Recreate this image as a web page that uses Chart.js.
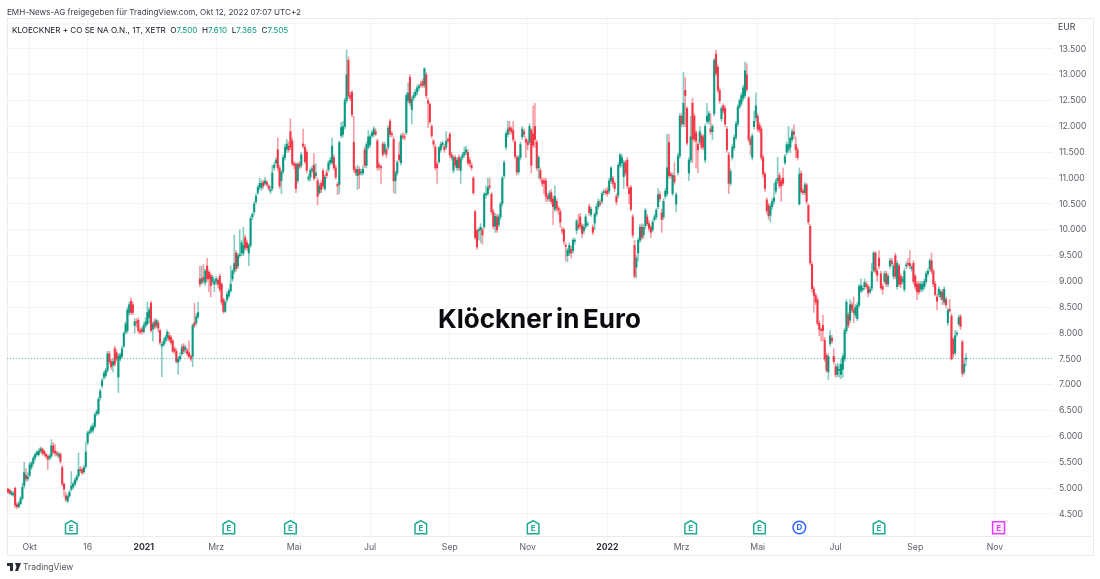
<!DOCTYPE html>
<html>
<head>
<meta charset="utf-8">
<title>Klöckner in Euro</title>
<script src="https://cdn.jsdelivr.net/npm/chart.js@4"></script>
<style>
  body { margin: 0; background: #fff; font-family: Inter, sans-serif; }
  #wrap { position: relative; width: 1100px; height: 579px; overflow: hidden; }
  canvas { position: absolute; left: 0; top: 0; }
  .txt { position: absolute; white-space: pre; color: #3c3f4a; font-size: 8.1px; line-height: 12px; }
  .up { color: #089981; }
</style>
</head>
<body>
<div id="wrap">
  <canvas id="chart" width="1100" height="579"></canvas>
  <div class="txt" style="left:7px;top:6px">EMH-News-AG freigegeben für TradingView.com, Okt 12, 2022 07:07 UTC+2</div>
  <div class="txt" style="left:12px;top:24px;color:#131722">KLOECKNER + CO SE NA O.N., 1T, XETR  O<span class="up">7.500</span>  H<span class="up">7.610</span>  L<span class="up">7.365</span>  C<span class="up">7.505</span></div>
  <div class="txt" style="left:1058px;top:21px;font-size:8.7px">EUR</div>
  <div class="txt" style="left:438px;top:303px;font-size:26px;line-height:32px;font-weight:700;word-spacing:-2.4px;color:#0b0b0f">Klöckner in Euro</div>
  <svg style="position:absolute;left:7px;top:563px" width="14" height="8" viewBox="0 0 14 8"><path d="M0 0h6v8H3V3H0z M8 0h6l-3 8H8l1.500-4z" fill="#2a2e39"/></svg>
  <div class="txt" style="left:23px;top:561px;font-size:8.5px;color:#50535e">TradingView</div>
</div>
<script>
// daily candles (Euro)
const opens = [
4.98,4.96,4.88,4.87,5.00,4.68,4.64,4.70,4.80,5.05,5.25,5.18,5.25,5.40,5.48,5.58,5.65,5.65,5.72,5.76,
5.72,5.66,5.62,5.58,5.62,5.82,5.72,5.68,5.62,5.66,5.40,5.08,4.85,4.75,4.85,4.98,5.02,5.08,5.16,5.24,
5.36,5.36,5.32,5.42,5.88,6.07,6.10,6.12,6.20,6.44,6.45,6.75,6.98,7.15,7.18,7.28,7.60,7.45,7.38,7.70,
7.62,7.15,7.50,7.55,7.75,8.02,8.05,8.40,8.62,8.55,8.15,8.22,8.25,8.05,8.08,8.03,8.15,8.18,8.30,8.58,
8.08,8.22,8.15,8.20,8.05,7.75,7.78,7.85,7.92,7.95,7.92,7.85,7.70,7.65,7.44,7.50,7.60,7.75,7.68,7.66,
7.62,7.55,7.55,8.20,8.20,8.32,9.05,8.98,9.08,8.98,9.30,9.18,9.12,9.00,8.95,9.00,9.02,9.10,8.95,8.65,
8.42,8.65,8.72,8.82,9.05,9.20,9.55,9.30,9.50,9.55,9.55,9.85,9.75,9.55,9.70,10.25,10.35,10.55,10.72,10.82,
10.82,10.92,10.90,10.92,10.85,10.75,10.80,11.20,11.30,11.55,11.20,10.95,11.13,11.40,11.56,11.62,11.90,11.72,11.28,11.27,
10.95,11.28,11.25,11.66,11.60,11.50,10.98,11.02,11.15,11.25,11.05,10.95,10.72,10.90,11.14,10.80,11.10,11.17,11.30,11.30,
11.40,11.20,10.88,10.88,11.82,11.85,12.00,12.50,13.28,12.60,12.66,11.69,11.17,11.05,11.17,11.10,11.10,11.55,11.25,11.60,
11.65,11.82,11.85,11.90,11.72,11.25,11.22,11.66,11.50,11.55,11.60,12.10,11.85,11.75,10.95,11.10,11.45,11.30,11.82,11.80,
11.88,12.50,12.95,12.33,12.55,12.60,12.67,12.75,12.82,12.87,12.80,13.00,12.50,12.43,12.00,11.72,11.60,11.27,11.32,11.55,
11.65,11.60,11.60,11.75,11.85,11.45,11.15,11.40,11.20,11.40,11.15,11.40,11.45,11.50,11.50,11.35,11.25,11.00,10.35,9.98,
9.98,10.00,10.00,10.06,10.68,10.70,10.85,10.69,10.35,10.07,10.25,10.10,10.25,10.51,11.05,11.60,11.85,11.98,11.96,11.92,
11.70,11.40,11.12,11.40,11.80,11.90,11.75,11.70,11.70,11.93,11.86,12.00,11.70,11.20,11.15,10.95,10.95,10.95,10.65,10.60,
10.72,10.60,10.40,10.55,10.42,10.35,10.00,10.00,9.70,9.50,9.55,9.62,9.60,9.78,9.99,10.10,10.25,10.08,9.98,10.07,
10.10,10.45,10.30,10.05,10.13,10.30,10.45,10.52,10.55,10.72,10.74,10.76,10.75,10.95,11.00,10.90,10.65,10.67,11.25,11.30,
11.03,11.30,11.35,10.80,10.82,10.25,9.70,9.28,9.55,9.80,10.05,9.90,10.08,10.25,10.12,10.05,10.00,10.20,10.25,10.45,
10.68,10.33,10.25,10.65,10.70,11.69,11.08,10.70,11.05,10.50,11.11,11.43,12.20,12.05,12.70,12.35,11.10,11.35,12.45,12.20,
11.88,11.65,11.70,11.82,11.80,11.35,12.10,12.10,11.95,11.90,12.25,13.40,13.15,12.70,12.15,12.40,12.35,11.95,11.45,10.90,
11.40,11.59,11.79,12.05,12.38,12.45,12.55,12.60,13.00,12.55,11.75,11.40,12.00,12.17,12.20,12.03,11.95,11.40,11.08,10.58,
10.47,10.28,10.45,10.55,10.75,10.95,11.05,10.95,11.00,11.30,11.50,11.55,11.60,11.75,11.90,11.65,11.55,10.50,11.09,10.75,
10.72,10.87,10.47,10.07,9.33,8.85,8.73,8.65,8.19,8.07,8.15,7.86,7.57,7.25,7.80,7.90,7.55,7.35,7.20,7.28,
7.20,7.30,7.50,8.05,8.35,8.25,8.55,8.45,8.35,8.28,8.54,8.82,8.85,8.90,8.95,8.90,8.80,8.87,9.22,9.55,
9.20,9.45,9.15,8.90,9.00,9.15,8.95,9.30,9.40,9.10,9.50,8.90,9.30,9.10,9.00,8.85,9.30,9.35,9.35,9.25,
9.35,9.10,8.95,8.95,8.85,8.85,8.90,9.00,9.15,9.25,9.40,9.20,8.95,8.70,8.75,8.70,8.80,8.60,8.65,8.20,
8.46,8.33,7.88,7.62,7.98,8.18,8.32,7.83,7.25,7.50];

const closes = [
4.92,4.90,4.92,4.90,4.67,4.64,4.70,4.80,5.02,5.30,5.18,5.22,5.45,5.48,5.58,5.65,5.70,5.72,5.76,5.68,
5.66,5.62,5.56,5.62,5.82,5.70,5.68,5.66,5.66,5.52,5.08,4.98,4.78,4.84,4.92,5.04,5.08,5.16,5.22,5.36,
5.34,5.30,5.40,5.70,6.07,6.08,6.18,6.20,6.42,6.48,6.72,6.88,7.08,7.22,7.28,7.60,7.45,7.35,7.45,7.40,
7.50,7.55,7.58,7.70,8.00,8.18,8.45,8.55,8.40,8.40,8.22,8.20,8.05,8.02,8.03,8.15,8.22,8.40,8.45,8.05,
8.18,8.12,8.25,8.10,7.82,7.78,7.85,7.92,8.02,7.88,7.82,7.65,7.65,7.45,7.50,7.55,7.72,7.65,7.72,7.60,
7.55,7.50,8.15,8.15,8.32,8.40,8.95,9.05,9.02,9.20,9.05,9.05,8.92,9.08,9.00,9.05,8.95,8.85,8.60,8.42,
8.60,8.75,8.82,8.95,9.20,9.35,9.25,9.50,9.52,9.75,9.70,9.65,9.65,9.70,10.22,10.30,10.50,10.65,10.82,10.90,
10.90,10.85,10.95,10.88,10.80,10.78,11.10,11.25,11.35,11.20,10.85,11.12,11.40,11.60,11.66,11.55,11.60,11.28,11.25,10.80,
11.27,11.22,11.45,11.62,11.32,11.15,11.02,11.15,11.18,11.00,11.10,10.65,10.85,10.78,10.85,11.02,11.05,11.30,11.35,11.62,
11.20,11.02,10.85,11.69,11.98,12.00,12.50,13.00,12.60,12.55,12.23,11.17,11.10,11.17,11.07,11.12,11.17,11.25,11.65,11.80,
11.80,11.88,11.95,11.85,11.20,11.22,11.20,11.46,11.65,11.46,11.97,11.85,11.84,10.95,11.10,11.30,11.36,11.82,11.80,11.78,
12.60,12.65,12.46,12.53,12.60,12.67,12.75,12.78,12.80,12.80,13.12,12.60,12.45,12.09,11.82,11.66,11.20,11.20,11.59,11.65,
11.68,11.55,11.72,11.73,11.45,11.40,11.40,11.25,11.35,11.20,11.38,11.45,11.50,11.55,11.30,11.28,11.20,10.72,9.85,9.67,
10.00,10.05,9.90,10.69,10.70,10.82,10.83,10.35,10.07,10.26,10.00,10.25,10.50,11.00,11.30,11.86,11.95,11.92,11.90,11.75,
11.42,11.12,11.40,11.65,11.95,11.85,11.70,11.65,12.00,11.25,11.64,11.75,11.20,11.40,11.00,10.90,10.90,10.65,10.60,10.70,
10.55,10.45,10.65,10.42,10.38,10.15,9.98,9.78,9.68,9.60,9.70,9.55,9.80,9.80,10.17,10.05,10.07,9.93,10.05,10.25,
10.12,10.33,10.40,9.95,10.30,10.45,10.55,10.50,10.70,10.74,10.72,10.70,10.95,11.20,10.90,10.80,10.54,11.25,11.45,11.40,
11.30,11.10,10.85,10.70,10.40,9.90,9.10,9.45,9.80,10.05,9.85,10.05,10.38,10.12,10.03,9.95,10.15,10.25,10.38,10.68,
10.60,10.20,10.55,10.75,11.20,11.05,11.05,11.05,10.93,10.68,11.43,12.20,12.05,12.45,12.60,11.68,11.35,11.80,11.75,11.75,
11.72,11.55,11.90,11.60,11.60,12.00,12.20,12.25,11.90,12.00,13.28,13.03,12.70,12.50,12.35,12.30,12.05,11.55,10.90,11.13,
11.60,11.79,12.05,12.38,12.50,12.60,12.75,13.08,12.72,11.75,11.65,11.82,12.10,12.40,11.95,11.93,11.40,11.08,10.80,10.37,
10.27,10.45,10.55,10.62,10.93,11.00,10.85,10.85,10.90,11.42,11.65,11.65,11.77,11.90,11.85,11.55,11.40,11.08,10.74,10.72,
10.87,10.55,10.15,9.36,8.86,8.73,8.60,8.19,8.07,8.05,8.05,7.50,7.28,7.55,7.95,7.85,7.45,7.20,7.35,7.30,
7.40,7.55,8.05,8.60,8.15,8.55,8.45,8.40,8.50,8.54,8.90,8.92,8.86,8.98,8.90,8.78,8.85,9.19,9.55,9.20,
9.12,9.30,8.88,8.85,9.15,8.95,9.10,9.40,9.35,9.30,9.10,9.35,8.95,8.95,9.05,9.20,9.32,9.33,9.30,9.28,
9.00,8.90,8.80,8.80,8.95,8.95,9.00,9.15,9.20,9.40,9.20,8.95,8.75,8.62,8.85,8.80,8.65,8.85,8.55,8.44,
8.43,7.50,7.60,7.95,8.00,8.30,8.13,7.22,7.40,7.505];

const highs = [
5.00,4.98,4.95,4.94,5.02,4.72,4.74,4.84,5.10,5.50,5.38,5.30,5.50,5.52,5.62,5.68,5.72,5.76,5.80,5.78,
5.74,5.68,5.64,5.66,5.94,5.88,5.85,5.72,5.70,5.68,5.44,5.10,4.92,4.88,4.96,5.32,5.12,5.20,5.26,5.68,
5.42,5.40,5.44,5.88,6.10,6.14,6.22,6.26,6.46,6.52,6.76,6.92,7.12,7.26,7.32,7.65,7.65,7.50,7.50,7.75,
7.68,7.60,7.62,7.75,8.02,8.22,8.50,8.60,8.68,8.60,8.28,8.28,8.30,8.10,8.12,8.20,8.30,8.60,8.50,8.62,
8.22,8.28,8.28,8.24,8.08,7.82,7.90,7.96,8.06,8.02,7.96,7.88,7.74,7.70,7.55,7.62,7.78,7.80,7.76,7.70,
7.85,7.58,8.18,8.58,8.38,8.60,9.30,9.30,9.33,9.24,9.45,9.22,9.16,9.12,9.05,9.10,9.06,9.14,8.98,8.68,
8.64,8.80,8.86,9.30,9.24,9.90,9.60,9.55,10.00,9.80,10.05,9.90,9.80,9.74,10.26,10.34,10.55,10.70,10.86,11.00,
10.96,10.96,11.02,10.96,10.88,10.84,11.25,11.30,11.40,11.78,11.25,11.15,11.45,11.66,11.75,11.70,12.15,11.78,11.32,11.30,
11.30,11.32,11.50,11.95,11.65,11.55,11.08,11.20,11.24,11.48,11.28,11.00,10.90,10.95,11.18,11.06,11.16,11.34,11.40,11.78,
11.45,11.25,10.92,11.72,12.08,12.10,12.55,13.48,13.35,12.66,12.70,12.20,11.22,11.25,11.22,11.18,11.24,11.60,11.70,11.92,
11.84,11.92,12.00,11.96,11.76,11.30,11.26,11.70,11.70,11.60,12.02,12.14,11.90,11.80,11.14,11.34,11.70,11.86,11.88,11.86,
12.65,12.85,13.00,12.58,12.66,12.72,12.80,12.82,12.88,12.92,13.14,13.04,12.55,12.46,12.04,11.75,11.65,11.32,11.62,11.70,
11.72,11.65,11.90,11.78,11.88,11.50,11.44,11.44,11.40,11.45,11.42,11.50,11.60,11.62,11.55,11.40,11.30,11.03,10.38,10.02,
10.04,10.12,10.04,10.72,10.85,11.00,11.00,10.72,10.40,10.32,10.30,10.30,10.54,11.04,11.34,11.90,12.10,12.10,12.00,12.10,
11.74,11.44,11.44,11.70,12.00,11.95,11.80,11.75,12.05,11.96,12.40,12.45,11.74,11.44,11.20,11.00,11.00,11.00,10.70,10.76,
10.78,10.66,10.85,10.60,10.46,10.40,10.05,10.04,9.75,9.64,9.75,9.68,9.84,9.84,10.20,10.30,10.32,10.12,10.10,10.30,
10.16,10.50,10.44,10.10,10.34,10.50,10.60,10.58,10.74,10.78,10.80,10.82,11.00,11.22,11.04,10.94,10.70,11.30,11.48,11.46,
11.35,11.34,11.40,10.84,10.86,10.30,9.80,9.50,9.84,10.10,10.12,10.10,10.42,10.30,10.18,10.08,10.20,10.30,10.42,10.80,
10.74,10.40,10.60,10.80,11.85,11.85,11.12,11.10,11.30,10.72,11.48,12.25,12.24,13.05,12.95,12.38,11.40,12.20,12.55,12.25,
11.92,11.70,12.00,11.86,11.84,12.04,12.45,12.30,12.25,12.04,13.32,13.48,13.20,12.75,12.40,12.44,12.40,12.00,11.50,11.18,
11.65,11.84,12.10,12.42,12.54,12.65,12.80,13.25,13.22,12.58,11.80,11.86,12.30,12.65,12.25,12.08,12.00,11.45,11.12,10.62,
10.52,10.50,10.60,10.90,10.98,11.40,11.10,11.00,11.20,11.46,11.70,12.00,11.80,11.95,12.03,11.80,11.60,11.20,11.14,10.80,
10.92,10.90,10.50,10.10,9.38,8.90,8.78,8.70,8.24,8.10,8.35,7.92,7.62,7.60,8.05,7.96,7.70,7.40,7.42,7.40,
7.50,7.60,8.10,8.65,8.40,8.65,8.60,8.70,8.55,8.60,8.95,9.05,8.92,9.05,9.00,8.94,8.90,9.35,9.58,9.58,
9.25,9.60,9.20,8.95,9.20,9.20,9.15,9.45,9.45,9.35,9.55,9.40,9.34,9.15,9.10,9.25,9.38,9.45,9.60,9.32,
9.40,9.14,9.00,9.00,9.00,9.00,9.05,9.20,9.25,9.44,9.55,9.24,9.00,8.75,8.90,8.84,8.85,8.90,8.70,8.48,
8.65,8.38,7.92,8.05,8.04,8.35,8.36,7.86,7.50,7.61];

const lows = [
4.90,4.88,4.86,4.84,4.62,4.60,4.62,4.68,4.78,5.00,5.12,5.14,5.22,5.36,5.44,5.54,5.62,5.62,5.68,5.64,
5.62,5.58,5.36,5.54,5.58,5.66,5.62,5.62,5.58,5.48,5.04,4.84,4.74,4.72,4.82,4.94,4.98,5.04,5.12,5.20,
5.30,5.26,5.28,5.38,5.84,6.04,6.06,6.08,6.16,6.40,6.42,6.70,6.94,7.10,7.14,7.24,7.40,7.30,7.25,7.36,
7.46,6.85,7.46,7.52,7.72,7.98,8.00,8.35,8.36,8.36,8.00,8.12,8.00,7.98,7.98,8.00,8.10,8.15,8.20,8.02,
7.85,8.08,8.10,8.02,7.78,7.16,7.74,7.80,7.86,7.84,7.78,7.62,7.60,7.42,7.20,7.46,7.56,7.60,7.62,7.56,
7.52,7.46,7.35,8.10,8.16,8.28,8.90,8.94,8.96,8.92,9.00,8.80,8.70,8.94,8.80,8.94,8.88,8.80,8.55,8.38,
8.40,8.60,8.68,8.78,9.00,9.15,9.20,9.25,9.46,9.50,9.50,9.60,9.60,9.30,9.66,10.20,10.30,10.50,10.68,10.78,
10.76,10.80,10.86,10.84,10.76,10.70,10.76,11.15,11.25,11.15,10.80,10.70,11.08,11.35,11.50,11.50,11.55,11.24,11.18,10.72,
10.90,11.18,11.20,11.58,11.28,11.10,10.94,10.95,11.10,10.96,11.00,10.48,10.68,10.72,10.80,10.76,11.00,11.12,11.25,11.26,
11.16,10.98,10.68,10.70,11.78,11.80,11.95,12.45,12.55,12.50,12.18,11.12,11.05,10.78,10.80,11.06,11.06,11.20,11.20,11.56,
11.60,11.78,11.80,11.82,11.15,11.16,10.90,11.42,11.46,11.40,11.55,11.80,11.80,10.72,10.70,11.05,11.32,11.25,11.75,11.74,
11.84,12.45,12.40,12.05,12.50,12.56,12.62,12.70,12.76,12.76,12.75,12.55,11.98,12.05,11.78,11.60,11.16,10.90,11.28,11.50,
11.60,11.50,11.56,11.68,11.40,11.35,11.10,11.20,11.15,11.15,10.90,11.35,11.40,11.45,11.25,11.22,11.15,10.68,9.82,9.62,
9.80,9.75,9.72,10.02,10.62,10.66,10.78,10.30,10.02,9.95,9.95,10.05,10.20,10.46,11.00,11.55,11.80,11.85,11.85,11.70,
11.38,11.06,11.08,11.35,11.75,11.80,11.40,11.55,11.65,11.10,11.60,11.60,11.15,11.00,10.95,10.84,10.70,10.55,10.55,10.55,
10.50,10.10,10.36,10.36,10.30,10.05,9.92,9.72,9.40,9.38,9.50,9.45,9.55,9.72,9.92,10.00,10.02,9.85,9.92,10.02,
10.06,10.28,10.26,9.90,10.00,10.26,10.40,10.46,10.50,10.68,10.68,10.65,10.70,10.90,10.84,10.74,10.48,10.62,11.20,11.22,
10.80,11.05,10.80,10.50,10.36,9.85,9.07,9.07,9.40,9.75,9.80,9.84,10.02,10.08,9.98,9.85,9.96,10.16,10.20,10.40,
10.55,9.95,10.20,10.60,10.65,11.00,11.00,10.66,10.88,10.35,11.06,11.38,12.00,12.00,12.00,11.64,10.95,11.30,11.30,11.70,
11.20,11.10,11.65,11.56,11.55,11.30,12.05,12.05,11.85,11.75,12.20,12.98,12.66,12.45,12.10,12.25,12.00,11.50,10.70,10.85,
11.35,11.54,11.74,12.00,12.34,12.40,12.50,12.55,12.68,11.70,11.45,11.35,11.95,12.10,11.90,11.88,11.35,11.02,10.74,10.32,
10.20,10.15,10.40,10.50,10.70,10.90,10.80,10.55,10.86,11.26,11.45,11.50,11.50,11.70,11.75,11.40,11.35,10.48,10.70,10.68,
10.68,10.50,10.10,9.32,8.80,8.40,8.55,8.15,7.95,7.85,7.85,7.45,7.24,7.10,7.75,7.80,7.40,7.15,7.16,7.15,
7.12,7.15,7.45,8.00,8.10,8.20,8.40,8.20,8.30,8.24,8.50,8.78,8.80,8.84,8.86,8.70,8.76,8.82,9.18,9.15,
9.00,9.25,8.84,8.75,8.96,8.90,8.90,9.25,9.30,9.05,9.05,8.85,8.90,8.88,8.95,8.80,9.25,9.28,9.25,9.20,
8.95,8.85,8.65,8.75,8.80,8.80,8.85,8.95,9.10,9.20,9.15,8.90,8.72,8.45,8.70,8.65,8.55,8.55,8.50,8.15,
8.40,7.48,7.52,7.58,7.94,8.14,8.07,7.16,7.20,7.365];

// bars on the time axis (the axis runs on past the last candle)
const slotCount = 577;
const slots = Array.from({ length: slotCount }, (_, i) => i);
const timeTickBars = [12, 44, 75, 115, 158, 200, 244, 287, 331, 372, 414, 457, 501, 545];
const timeTickNames = ['Okt', '16', '2021', 'Mrz', 'Mai', 'Jul', 'Sep', 'Nov', '2022', 'Mrz', 'Mai', 'Jul', 'Sep', 'Nov'];
const priceTicks = [4.5, 5, 5.5, 6, 6.5, 7, 7.5, 8, 8.5, 9, 9.5, 10, 10.5, 11, 11.5, 12, 12.5, 13, 13.5, 14];

const earningsBars = [35, 122, 156, 228, 290, 377, 415, 481];
const dividendBars = [437];
const nextEarningsBars = [547];

const UP = '#089981', DOWN = '#f23645', GRID = '#f3f4f7', FRAME = '#e9ebf0';
const UP_WICK = 'rgba(8,153,129,0.5)', DOWN_WICK = 'rgba(242,54,69,0.5)';
const bodyColors = closes.map((c, i) => (c >= opens[i] ? UP : DOWN));
const wickColors = closes.map((c, i) => (c >= opens[i] ? UP_WICK : DOWN_WICK));

function drawHouse(ctx, x, y) {
  ctx.beginPath();
  ctx.moveTo(x - 5.8, y - 3.5);
  ctx.lineTo(x, y - 6.8);
  ctx.lineTo(x + 5.8, y - 3.5);
  ctx.lineTo(x + 5.8, y + 6.2);
  ctx.lineTo(x - 5.8, y + 6.2);
  ctx.closePath();
  ctx.fillStyle = '#fff';
  ctx.fill();
  ctx.lineWidth = 1.5;
  ctx.strokeStyle = '#22ab94';
  ctx.stroke();
  ctx.fillStyle = '#22ab94';
}

const extras = {
  id: 'extras',
  beforeDraw(chart) {
    const { ctx, chartArea: a } = chart;
    ctx.save();
    ctx.strokeStyle = FRAME;
    ctx.lineWidth = 1;
    ctx.strokeRect(7.5, a.top + 0.5, 1086, 537);
    ctx.beginPath();
    ctx.moveTo(7, a.bottom + 0.5);
    ctx.lineTo(1093, a.bottom + 0.5);
    ctx.stroke();
    ctx.restore();
  },
  afterDatasetsDraw(chart) {
    const { ctx, chartArea: a, scales: { x, y } } = chart;
    const lastY = Math.floor(y.getPixelForValue(closes[closes.length - 1])) + 0.5;
    ctx.save();
    ctx.strokeStyle = UP;
    ctx.globalAlpha = 0.55;
    ctx.lineWidth = 1;
    ctx.setLineDash([1, 2]);
    ctx.beginPath();
    ctx.moveTo(a.left, lastY);
    ctx.lineTo(a.right, lastY);
    ctx.stroke();
    ctx.restore();

    // event markers under the candles
    const my = 527.5;
    ctx.save();
    ctx.textAlign = 'center';
    ctx.textBaseline = 'middle';
    ctx.font = '700 8px Inter, sans-serif';
    earningsBars.forEach((b) => {
      const px = x.getPixelForValue(b);
      drawHouse(ctx, px, my);
      ctx.fillText('E', px, my + 0.8);
    });
    dividendBars.forEach((b) => {
      const px = x.getPixelForValue(b);
      ctx.beginPath();
      ctx.arc(px, my, 6.3, 0, Math.PI * 2);
      ctx.fillStyle = '#fff';
      ctx.fill();
      ctx.lineWidth = 1.5;
      ctx.strokeStyle = '#2962ff';
      ctx.stroke();
      ctx.fillStyle = '#2962ff';
      ctx.fillText('D', px, my + 0.5);
    });
    nextEarningsBars.forEach((b) => {
      const px = x.getPixelForValue(b);
      ctx.fillStyle = '#fbeafe';
      ctx.fillRect(px - 6, my - 5.8, 12, 12);
      ctx.lineWidth = 1.5;
      ctx.strokeStyle = '#e040fb';
      ctx.strokeRect(px - 6, my - 5.8, 12, 12);
      ctx.fillStyle = '#e040fb';
      ctx.fillText('E', px, my + 0.6);
    });
    ctx.restore();
  }
};

new Chart(document.getElementById('chart'), {
  type: 'bar',
  data: {
    labels: slots,
    datasets: [
      {
        data: highs.map((h, i) => [lows[i], h]),
        backgroundColor: wickColors,
        barThickness: 0.9,
        grouped: false,
        borderWidth: 0,
        borderSkipped: false,
        order: 2
      },
      {
        data: closes.map((c, i) => [opens[i], c]),
        backgroundColor: bodyColors,
        barThickness: 1.4,
        minBarLength: 1,
        grouped: false,
        borderWidth: 0,
        borderSkipped: false,
        order: 1
      }
    ]
  },
  options: {
    responsive: false,
    animation: false,
    devicePixelRatio: 1,
    layout: { padding: { left: 7, top: 18, right: 7, bottom: 24 } },
    plugins: { legend: { display: false }, tooltip: { enabled: false } },
    scales: {
      x: {
        offset: true,
        grid: { color: GRID, offset: false, drawTicks: false },
        border: { display: false },
        afterFit(scale) { scale.height = 19; },
        afterBuildTicks(scale) {
          scale.ticks = timeTickBars.map((value) => ({ value }));
        },
        ticks: {
          autoSkip: false,
          maxRotation: 0,
          padding: 6,
          color: (c) => (/^20/.test(c.tick.label) ? '#2f323c' : '#5d606b'),
          font: (c) => ({
            family: 'Inter, sans-serif',
            size: 8.7,
            weight: /^20/.test(c.tick.label) ? '700' : '400'
          }),
          callback(value) { return timeTickNames[timeTickBars.indexOf(value)]; }
        }
      },
      y: {
        position: 'right',
        min: 4.074,
        max: 14.1,
        grid: { color: GRID, drawTicks: false },
        border: { display: false },
        afterFit(scale) { scale.width = 41; },
        afterBuildTicks(scale) {
          scale.ticks = priceTicks.map((value) => ({ value }));
        },
        ticks: {
          padding: 7,
          color: '#5d606b',
          font: { family: 'Inter, sans-serif', size: 8.7 },
          callback(value) { return value >= 14 ? '' : value.toFixed(3); }
        }
      }
    }
  },
  plugins: [extras]
});
</script>
</body>
</html>
